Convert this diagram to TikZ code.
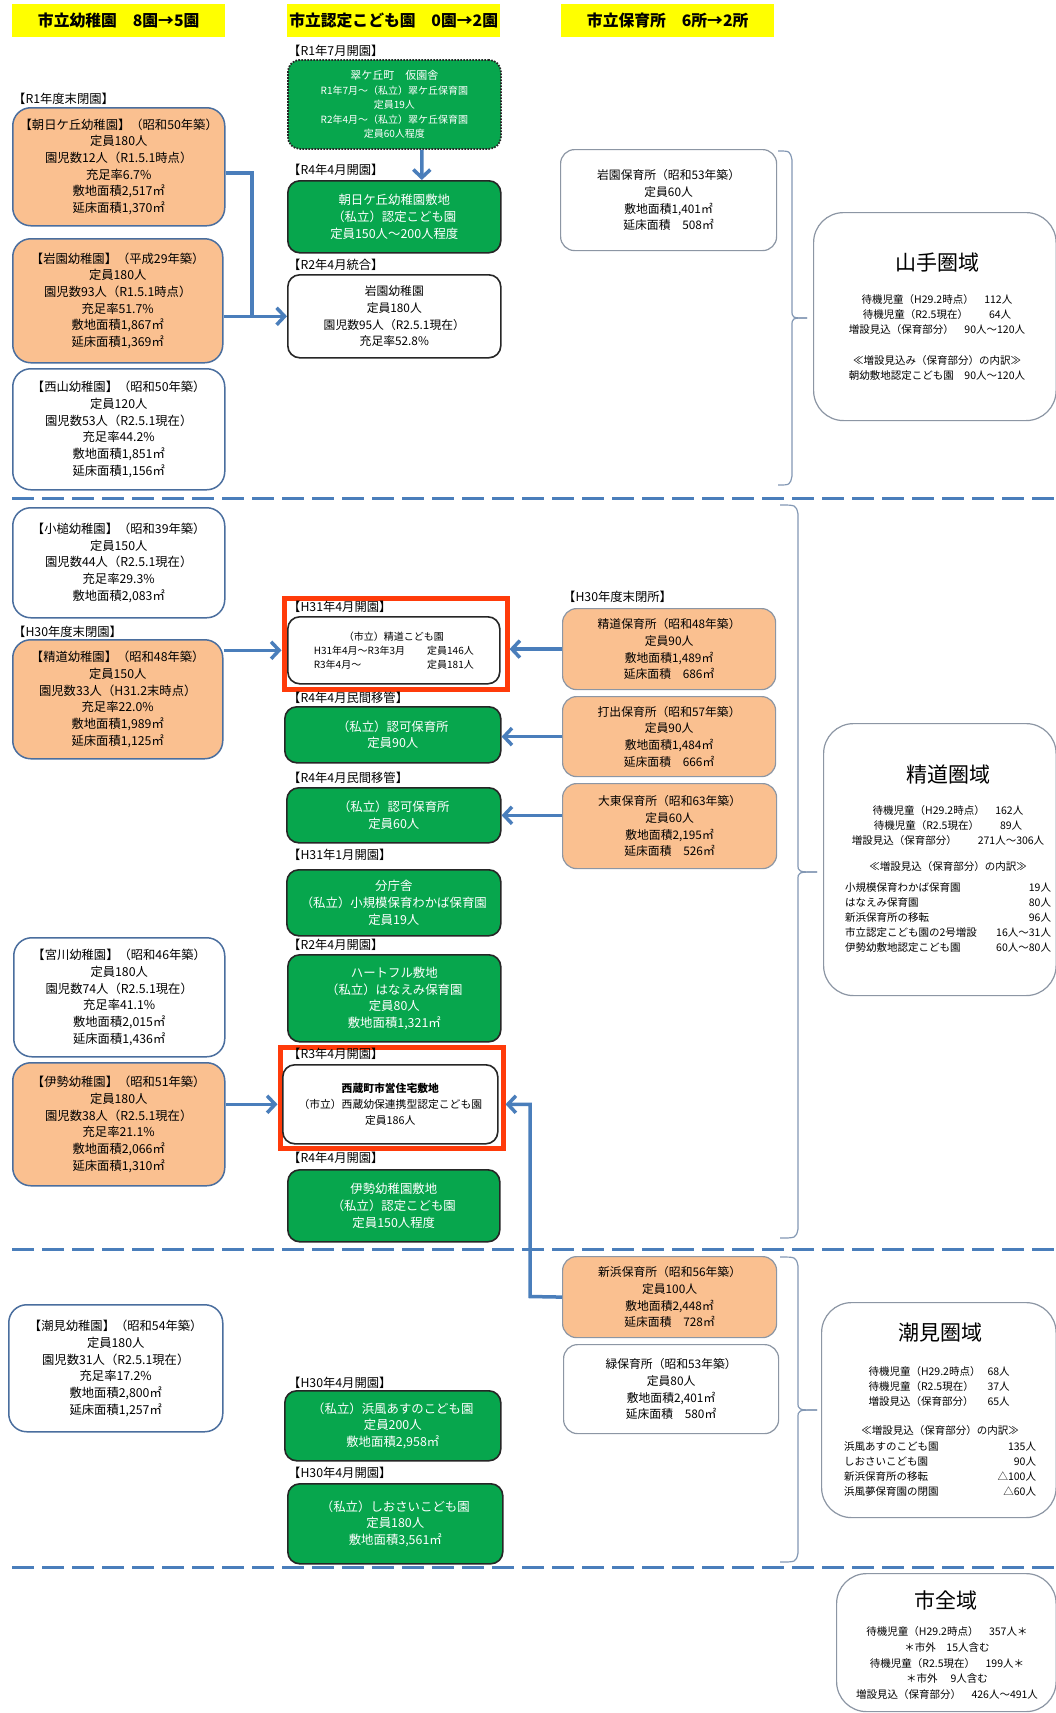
\documentclass[tikz,border=0pt]{standalone}
\usepackage{fontspec}
\setmainfont{Noto Sans CJK JP}
\usetikzlibrary{arrows.meta}
\definecolor{yellowf}{HTML}{FFFF00}
\definecolor{orangef}{HTML}{FAC090}
\definecolor{greenf}{HTML}{07A64D}
\definecolor{arrowc}{HTML}{4A7EBB}
\definecolor{redf}{HTML}{FF3B0A}
\definecolor{kborder}{HTML}{4A6E9E}
\definecolor{pborder}{HTML}{8C96A4}
\definecolor{bracec}{HTML}{8398B4}
\tikzset{
 bx/.style={anchor=north west, align=center, inner sep=0pt},
 kbox/.style={bx, draw=kborder, line width=1.5pt, rounded corners=18pt, font=\fontsize{12.3}{16.7}\selectfont},
 korange/.style={kbox, fill=orangef},
 kwhite/.style={kbox, fill=white},
 gbox/.style={bx, draw=black!85, line width=1.6pt, fill=greenf, rounded corners=12pt, text=white, font=\fontsize{12.4}{16.7}\selectfont},
 cbox/.style={bx, draw=black!85, line width=1.6pt, fill=white, rounded corners=12pt, font=\fontsize{11.8}{16.7}\selectfont},
 pbox/.style={bx, draw=pborder, line width=1.2pt, rounded corners=14pt, font=\fontsize{11.8}{16.7}\selectfont},
 porange/.style={pbox, fill=orangef},
 pwhite/.style={pbox, fill=white},
 rbox/.style={bx, draw=pborder, line width=1.2pt, fill=white, rounded corners=30pt},
 rtitle/.style={inner sep=0pt, font=\fontsize{21}{25}\selectfont},
 rtext/.style={inner sep=0pt, align=center, font=\fontsize{10.5}{15}\selectfont},
 lab/.style={anchor=west, inner sep=0pt, font=\fontsize{12.3}{14}\selectfont},
 hdr/.style={bx, fill=yellowf, minimum width=213pt, minimum height=33pt, font=\bfseries\fontsize{15.8}{18}\selectfont},
 redfr/.style={anchor=north west, inner sep=0pt, draw=redf, line width=5pt},
 arr/.style={draw=arrowc, line width=3.5pt, -{Straight Barb[length=8pt,width=17pt]}},
 conn/.style={draw=arrowc, line width=3.5pt},
 bracel/.style={draw=bracec, line width=1.2pt},
 sepline/.style={draw=arrowc, line width=3pt, dash pattern=on 22pt off 8pt},
}
\begin{document}
\begin{tikzpicture}[x=1pt,y=-1pt]
\fill[white] (0,0) rectangle (1056,1713);
\useasboundingbox (0,0) rectangle (1056,1713);

% headers
\node[hdr] (H1) at (12,4) {市立幼稚園　8園→5園};
\node[hdr] (H2) at (287,4) {市立認定こども園　0園→2園};
\node[hdr] (H3) at (561,4) {市立保育所　6所→2所};

% separators
\draw[sepline] (12,498) -- (1056,498);
\draw[sepline] (12,1249) -- (1056,1249);
\draw[sepline] (12,1567) -- (1056,1567);

% braces
\draw[bracel] (778,151) .. controls (790,151) .. (792,160) -- (792,310) .. controls (792,318) .. (807,318);
\draw[bracel] (807,318) .. controls (792,318) .. (792,326) -- (792,476) .. controls (790,485) .. (778,485);
\draw[bracel] (780,505) .. controls (796,505) .. (798,514) -- (798,864) .. controls (798,872) .. (817,872);
\draw[bracel] (817,872) .. controls (798,872) .. (798,880) -- (798,1229) .. controls (796,1238) .. (780,1238);
\draw[bracel] (780,1257) .. controls (796,1257) .. (798,1266) -- (798,1402) .. controls (798,1410) .. (817,1410);
\draw[bracel] (817,1410) .. controls (798,1410) .. (798,1418) -- (798,1553) .. controls (796,1562) .. (780,1562);

% column 1 : kindergartens
\node[lab] (L1) at (13,99) {【R1年度末閉園】};
\node[korange, minimum width=212pt, minimum height=118pt] (A1) at (12,107)
 {【朝日ケ丘幼稚園】（昭和50年築）\\定員180人\\園児数12人（R1.5.1時点）\\充足率6.7\%\\敷地面積2,517㎡\\延床面積1,370㎡};
\node[korange, minimum width=210pt, minimum height=124pt] (A2) at (12,238)
 {【岩園幼稚園】（平成29年築）\\定員180人\\園児数93人（R1.5.1時点）\\充足率51.7\%\\敷地面積1,867㎡\\延床面積1,369㎡};
\node[kwhite, minimum width=212pt, minimum height=121pt] (A3) at (12,368)
 {【西山幼稚園】（昭和50年築）\\定員120人\\園児数53人（R2.5.1現在）\\充足率44.2\%\\敷地面積1,851㎡\\延床面積1,156㎡};
\node[kwhite, minimum width=212pt, minimum height=110pt] (A4) at (12,507)
 {【小槌幼稚園】（昭和39年築）\\定員150人\\園児数44人（R2.5.1現在）\\充足率29.3\%\\敷地面積2,083㎡};
\node[lab] (L2) at (13,632) {【H30年度末閉園】};
\node[korange, minimum width=210pt, minimum height=119pt] (A5) at (12,639)
 {【精道幼稚園】（昭和48年築）\\定員150人\\園児数33人（H31.2末時点）\\充足率22.0\%\\敷地面積1,989㎡\\延床面積1,125㎡};
\node[kwhite, minimum width=211pt, minimum height=119pt] (A6) at (13,937)
 {【宮川幼稚園】（昭和46年築）\\定員180人\\園児数74人（R2.5.1現在）\\充足率41.1\%\\敷地面積2,015㎡\\延床面積1,436㎡};
\node[korange, minimum width=212pt, minimum height=123pt] (A7) at (12,1062)
 {【伊勢幼稚園】（昭和51年築）\\定員180人\\園児数38人（R2.5.1現在）\\充足率21.1\%\\敷地面積2,066㎡\\延床面積1,310㎡};
\node[kwhite, minimum width=214pt, minimum height=127pt] (A8) at (8,1304)
 {【潮見幼稚園】（昭和54年築）\\定員180人\\園児数31人（R2.5.1現在）\\充足率17.2\%\\敷地面積2,800㎡\\延床面積1,257㎡};

% column 2 : kodomo-en
\node[lab] (L3) at (288,51) {【R1年7月開園】};
\node[gbox, dash pattern=on 1.6pt off 1.4pt, line width=1.8pt, font=\fontsize{10}{14.5}\selectfont, minimum width=213pt, minimum height=89pt] (B1) at (287,59)
 {\fontsize{11}{14.5}\selectfont 翠ケ丘町　仮園舎\\R1年7月～（私立）翠ケ丘保育園\\定員19人\\R2年4月～（私立）翠ケ丘保育園\\定員60人程度};
\node[lab] (L4) at (288,170) {【R4年4月開園】};
\node[gbox, minimum width=213pt, minimum height=72pt] (B2) at (287,180)
 {朝日ケ丘幼稚園敷地\\（私立）認定こども園\\定員150人～200人程度};
\node[lab] (L5) at (288,265) {【R2年4月統合】};
\node[cbox, minimum width=213pt, minimum height=83pt] (B3) at (287,274)
 {岩園幼稚園\\定員180人\\園児数95人（R2.5.1現在）\\充足率52.8\%};

\node[redfr, minimum width=223pt, minimum height=91pt] (R1) at (281.5,595.5) {};
\node[lab] (L6) at (288,607) {【H31年4月開園】};
\node[cbox, font=\fontsize{10}{14}\selectfont, minimum width=212pt, minimum height=67pt] (B4) at (287,616)
 {（市立）精道こども園\\\makebox[160pt][l]{H31年4月～R3年3月\hfill 定員146人}\\\makebox[160pt][l]{R3年4月～\hfill 定員181人}};
\node[lab] (L7) at (288,698) {【R4年4月民間移管】};
\node[gbox, minimum width=216pt, minimum height=56pt] (B5) at (284,706)
 {（私立）認可保育所\\定員90人};
\node[lab] (L8) at (288,778) {【R4年4月民間移管】};
\node[gbox, minimum width=214pt, minimum height=55pt] (B6) at (286,787)
 {（私立）認可保育所\\定員60人};
\node[lab] (L9) at (288,855) {【H31年1月開園】};
\node[gbox, minimum width=214pt, minimum height=66pt] (B7) at (286,869)
 {分庁舎\\（私立）小規模保育わかば保育園\\定員19人};
\node[lab] (L10) at (288,945) {【R2年4月開園】};
\node[gbox, minimum width=213pt, minimum height=87pt] (B8) at (287,954)
 {ハートフル敷地\\（私立）はなえみ保育園\\定員80人\\敷地面積1,321㎡};
\node[redfr, minimum width=223pt, minimum height=101pt] (R2) at (277.5,1044.5) {};
\node[lab] (L11) at (288,1054) {【R3年4月開園】};
\node[cbox, font=\fontsize{10.8}{16.3}\selectfont, minimum width=215pt, minimum height=79pt] (B9) at (282,1064)
 {\textbf{西蔵町市営住宅敷地}\\（市立）西蔵幼保連携型認定こども園\\定員186人};
\node[lab] (L12) at (288,1158) {【R4年4月開園】};
\node[gbox, minimum width=212pt, minimum height=72pt] (B10) at (287,1169)
 {伊勢幼稚園敷地\\（私立）認定こども園\\定員150人程度};
\node[lab] (L13) at (288,1383) {【H30年4月開園】};
\node[gbox, minimum width=216pt, minimum height=70pt] (B11) at (284,1390)
 {（私立）浜風あすのこども園\\定員200人\\敷地面積2,958㎡};
\node[lab] (L14) at (288,1473) {【H30年4月開園】};
\node[gbox, minimum width=215pt, minimum height=80pt] (B12) at (287,1483)
 {（私立）しおさいこども園\\定員180人\\敷地面積3,561㎡};

% column 3 : nursery schools
\node[pwhite, minimum width=216pt, minimum height=101pt] (C1) at (560,149)
 {岩園保育所（昭和53年築）\\定員60人\\敷地面積1,401㎡\\延床面積　508㎡};
\node[lab] (L15) at (563,597) {【H30年度末閉所】};
\node[porange, minimum width=213pt, minimum height=81pt] (C2) at (562,608)
 {精道保育所（昭和48年築）\\定員90人\\敷地面積1,489㎡\\延床面積　686㎡};
\node[porange, minimum width=213pt, minimum height=80pt] (C3) at (562,696)
 {打出保育所（昭和57年築）\\定員90人\\敷地面積1,484㎡\\延床面積　666㎡};
\node[porange, minimum width=214pt, minimum height=85pt] (C4) at (562,783)
 {大東保育所（昭和63年築）\\定員60人\\敷地面積2,195㎡\\延床面積　526㎡};
\node[porange, minimum width=214pt, minimum height=81pt] (C5) at (562,1256)
 {新浜保育所（昭和56年築）\\定員100人\\敷地面積2,448㎡\\延床面積　728㎡};
\node[pwhite, minimum width=215pt, minimum height=89pt] (C6) at (563,1344)
 {緑保育所（昭和53年築）\\定員80人\\敷地面積2,401㎡\\延床面積　580㎡};

% region boxes
\node[rbox, minimum width=242.5pt, minimum height=208pt] (D1) at (813,212) {};
\node[rtitle] (D1t) at (937,263) {山手圏域};
\node[rtext] (D1a) at (937,315) {待機児童（H29.2時点）　112人\\待機児童（R2.5現在）　　64人\\増設見込（保育部分）　90人～120人};
\node[rtext] (D1b) at (937,368) {≪増設見込み（保育部分）の内訳≫\\朝幼敷地認定こども園　90人～120人};

\node[rbox, minimum width=232.5pt, minimum height=272pt] (D2) at (823,723) {};
\node[rtitle] (D2t) at (948,775) {精道圏域};
\node[rtext] (D2a) at (948,825) {待機児童（H29.2時点）　162人\\待機児童（R2.5現在）　　89人\\増設見込（保育部分）　　271人～306人};
\node[rtext] (D2b) at (948,866) {≪増設見込（保育部分）の内訳≫};
\node[rtext, align=left] (D2c) at (948,917.5)
 {\makebox[206pt][l]{小規模保育わかば保育園\hfill 19人}\\
  \makebox[206pt][l]{はなえみ保育園\hfill 80人}\\
  \makebox[206pt][l]{新浜保育所の移転\hfill 96人}\\
  \makebox[206pt][l]{市立認定こども園の2号増設\hfill 16人～31人}\\
  \makebox[206pt][l]{伊勢幼敷地認定こども園\hfill 60人～80人}};

\node[rbox, minimum width=234.5pt, minimum height=215pt] (D3) at (821,1302) {};
\node[rtitle] (D3t) at (940,1333) {潮見圏域};
\node[rtext, align=left] (D3a) at (940,1386)
 {\makebox[143pt][l]{\makebox[119pt][l]{待機児童（H29.2時点）}68人}\\
  \makebox[143pt][l]{\makebox[119pt][l]{待機児童（R2.5現在）}37人}\\
  \makebox[143pt][l]{\makebox[119pt][l]{増設見込（保育部分）}65人}};
\node[rtext] (D3b) at (940,1430) {≪増設見込（保育部分）の内訳≫};
\node[rtext, align=left] (D3c) at (940,1469)
 {\makebox[192pt][l]{浜風あすのこども園\hfill 135人}\\
  \makebox[192pt][l]{しおさいこども園\hfill 90人}\\
  \makebox[192pt][l]{新浜保育所の移転\hfill △100人}\\
  \makebox[192pt][l]{浜風夢保育園の閉園\hfill △60人}};

\node[rbox, minimum width=219.5pt, minimum height=138pt] (D4) at (836,1573) {};
\node[rtitle] (D4t) at (946,1600) {市全域};
\node[rtext, font=\fontsize{10.5}{15.7}\selectfont] (D4a) at (947,1663)
 {待機児童（H29.2時点）　357人＊\\＊市外　15人含む\\待機児童（R2.5現在）　199人＊\\＊市外　 9人含む\\増設見込（保育部分）　426人～491人};

% connectors
\coordinate (J1) at (252,315.5);
\draw[conn] ([yshift=-6pt]A1.east) -| (J1);
\draw[arr] (A2.east |- B3.west) -- (B3.west);
\draw[arr] ([xshift=27.5pt]B1.south) -- ([xshift=27.5pt]B2.north);
\draw[arr] (A5.east |- B4.west) -- (R1.west |- B4.west);
\draw[arr] (C2.west) -- (C2.west -| R1.east);
\draw[arr] (C3.west) -- (C3.west -| B5.east);
\draw[arr] (C4.west |- B6.east) -- (B6.east);
\draw[arr] (A7.east |- B9.west) -- (R2.west |- B9.west);
\coordinate (J2) at (530,1296.5);
\draw[arr] (C5.west) -- (J2) |- (R2.east |- B9.east);
\end{tikzpicture}
\end{document}
